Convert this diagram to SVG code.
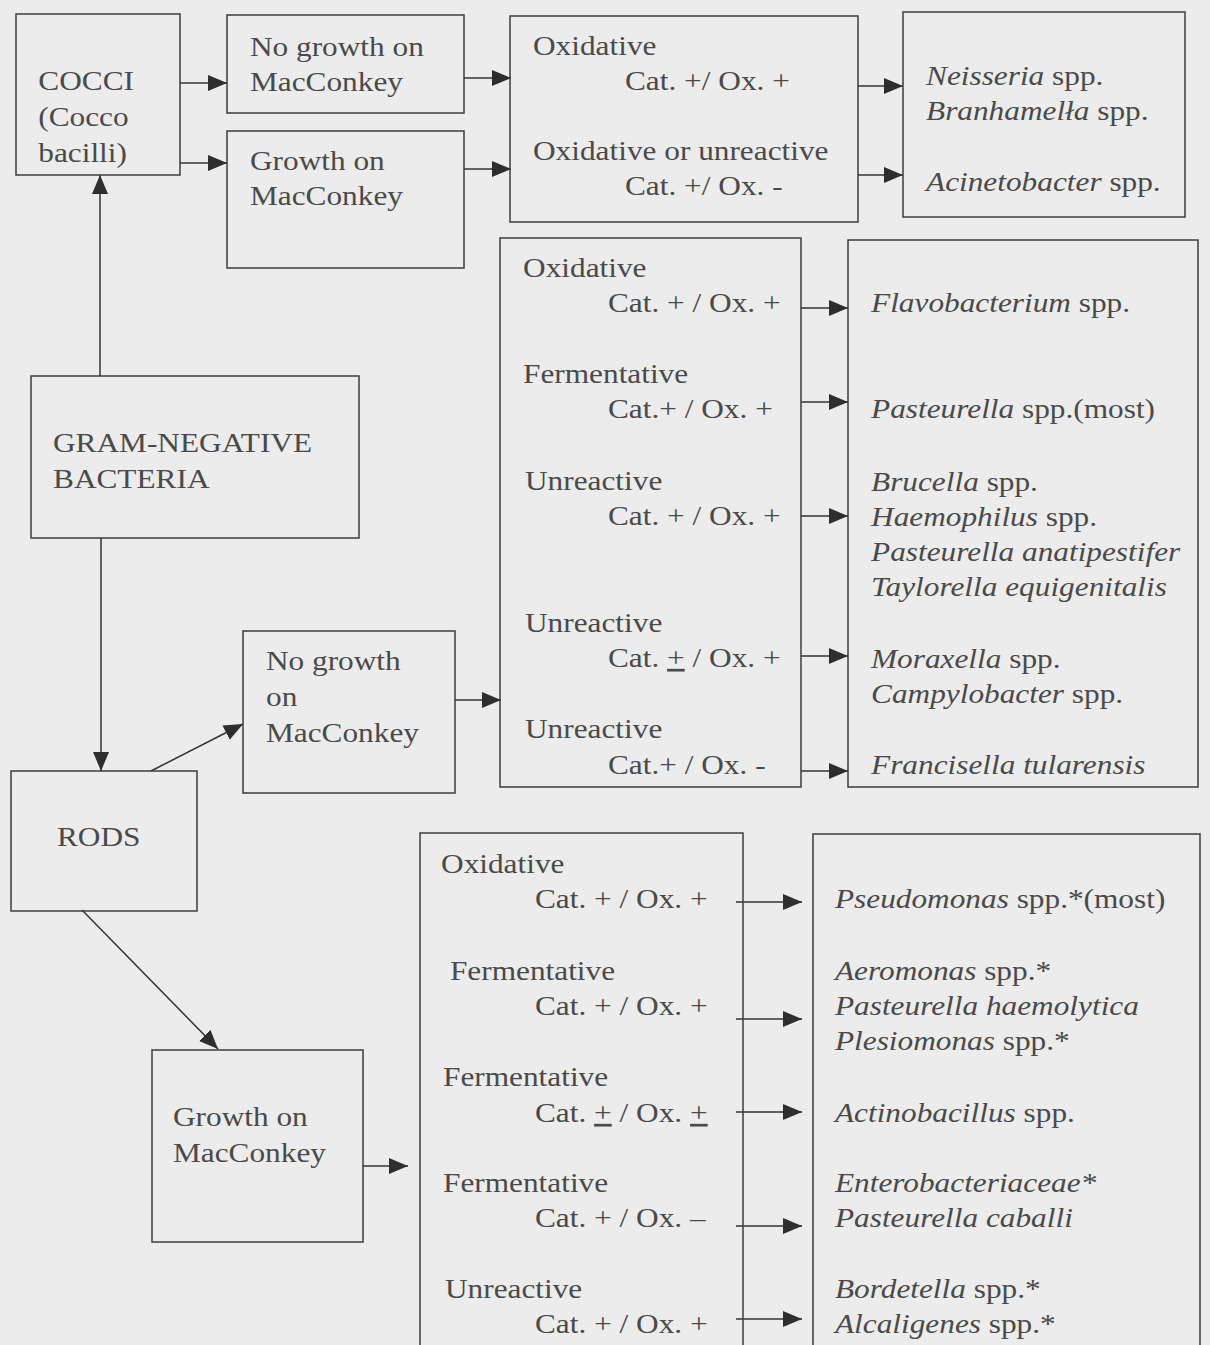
<svg xmlns="http://www.w3.org/2000/svg" width="1210" height="1345" viewBox="0 0 1210 1345">
<style>
.bx{fill:none;stroke:#3c3c3c;stroke-width:1.5}
.cn{stroke:#333;stroke-width:1.5;fill:none;marker-end:url(#ah)}
text{font-family:"Liberation Serif","Times New Roman",serif;font-size:27px;fill:#4a4a4a}
.i{font-style:italic}
.u{text-decoration:underline}
</style>
<defs>
<marker id="ah" markerUnits="userSpaceOnUse" markerWidth="22" markerHeight="18" refX="19" refY="8" orient="auto">
<path d="M0,0 L19,8 L0,16 z" fill="#2e2e2e"/>
</marker>
</defs>
<rect x="0" y="0" width="1210" height="1345" fill="#ececec"/>
<g id="connectors">
<line class="cn" x1="180" y1="83" x2="227" y2="83"/>
<line class="cn" x1="180" y1="163" x2="227" y2="163"/>
<line class="cn" x1="464" y1="78" x2="511" y2="78"/>
<line class="cn" x1="464" y1="169" x2="511" y2="169"/>
<line class="cn" x1="858" y1="86" x2="903" y2="86"/>
<line class="cn" x1="858" y1="175" x2="903" y2="175"/>
<line class="cn" x1="100" y1="376" x2="100" y2="175"/>
<line class="cn" x1="101" y1="538" x2="101" y2="771"/>
<line class="cn" x1="151" y1="771" x2="243" y2="724"/>
<line class="cn" x1="82" y1="910" x2="218" y2="1049"/>
<line class="cn" x1="455" y1="700" x2="501" y2="700"/>
<line class="cn" x1="801" y1="308" x2="848" y2="308"/>
<line class="cn" x1="801" y1="402" x2="848" y2="402"/>
<line class="cn" x1="801" y1="516" x2="848" y2="516"/>
<line class="cn" x1="801" y1="656" x2="848" y2="656"/>
<line class="cn" x1="801" y1="771" x2="848" y2="771"/>
<line class="cn" x1="363" y1="1166" x2="408" y2="1166"/>
<line class="cn" x1="736" y1="902" x2="802" y2="902"/>
<line class="cn" x1="736" y1="1019" x2="802" y2="1019"/>
<line class="cn" x1="736" y1="1112" x2="802" y2="1112"/>
<line class="cn" x1="736" y1="1226" x2="802" y2="1226"/>
<line class="cn" x1="736" y1="1319" x2="802" y2="1319"/>
</g>
<g id="cocci"><rect class="bx" x="16" y="14" width="164" height="161"/>
<g transform="scale(1.16,1)"><text x="33" y="90">COCCI</text><text x="33" y="126">(Cocco</text><text x="33" y="162">bacilli)</text></g></g>
<g id="nogrowth-cocci"><rect class="bx" x="227" y="15" width="237" height="98"/>
<g transform="scale(1.16,1)"><text x="215.5" y="56">No growth on</text><text x="215.5" y="91">MacConkey</text></g></g>
<g id="growth-cocci"><rect class="bx" x="227" y="131" width="237" height="137"/>
<g transform="scale(1.16,1)"><text x="215.5" y="170">Growth on</text><text x="215.5" y="205">MacConkey</text></g></g>
<g id="oxidative-cocci"><rect class="bx" x="510" y="16" width="348" height="206"/>
<g transform="scale(1.16,1)"><text x="459.5" y="55">Oxidative</text><text x="538.8" y="90">Cat. +/ Ox. +</text><text x="459.5" y="160">Oxidative or unreactive</text><text x="538.8" y="195">Cat. +/ Ox. -</text></g></g>
<g id="result-cocci"><rect class="bx" x="903" y="12" width="282" height="205"/>
<g transform="scale(1.16,1)"><text x="798.3" y="85"><tspan class="i">Neisseria</tspan> spp.</text><text x="798.3" y="120"><tspan class="i">Branhamelła</tspan> spp.</text><text x="798.3" y="191"><tspan class="i">Acinetobacter</tspan> spp.</text></g></g>
<g id="gram"><rect class="bx" x="31" y="376" width="328" height="162"/>
<g transform="scale(1.16,1)"><text x="45.7" y="452">GRAM-NEGATIVE</text><text x="45.7" y="488">BACTERIA</text></g></g>
<g id="rods"><rect class="bx" x="11" y="771" width="186" height="140"/>
<g transform="scale(1.16,1)"><text x="49.1" y="846">RODS</text></g></g>
<g id="nogrowth-rods"><rect class="bx" x="243" y="631" width="212" height="162"/>
<g transform="scale(1.16,1)"><text x="229.3" y="670">No growth</text><text x="229.3" y="706">on</text><text x="229.3" y="742">MacConkey</text></g></g>
<g id="tests-nogrowth"><rect class="bx" x="500" y="238" width="301" height="549"/>
<g transform="scale(1.16,1)">
<text x="450.9" y="277">Oxidative</text><text x="524.1" y="312">Cat. + / Ox. +</text>
<text x="450.9" y="383">Fermentative</text><text x="524.1" y="418">Cat.+ / Ox. +</text>
<text x="452.6" y="490">Unreactive</text><text x="524.1" y="525">Cat. + / Ox. +</text>
<text x="452.6" y="632">Unreactive</text><text x="524.1" y="667">Cat. <tspan class="u">+</tspan> / Ox. +</text>
<text x="452.6" y="738">Unreactive</text><text x="524.1" y="774">Cat.+ / Ox. -</text>
</g></g>
<g id="result-nogrowth"><rect class="bx" x="848" y="240" width="350" height="547"/>
<g transform="scale(1.16,1)">
<text x="750.9" y="312"><tspan class="i">Flavobacterium</tspan> spp.</text>
<text x="750.9" y="418"><tspan class="i">Pasteurella</tspan> spp.(most)</text>
<text x="750.9" y="491"><tspan class="i">Brucella</tspan> spp.</text>
<text x="750.9" y="526"><tspan class="i">Haemophilus</tspan> spp.</text>
<text x="750.9" y="561" class="i">Pasteurella anatipestifer</text>
<text x="750.9" y="596" class="i">Taylorella equigenitalis</text>
<text x="750.9" y="668"><tspan class="i">Moraxella</tspan> spp.</text>
<text x="750.9" y="703"><tspan class="i">Campylobacter</tspan> spp.</text>
<text x="750.9" y="774" class="i">Francisella tularensis</text>
</g></g>
<g id="growth-rods"><rect class="bx" x="152" y="1050" width="211" height="192"/>
<g transform="scale(1.16,1)"><text x="149.1" y="1126">Growth on</text><text x="149.1" y="1162">MacConkey</text></g></g>
<g id="tests-growth"><rect class="bx" x="420" y="833" width="323" height="530"/>
<g transform="scale(1.16,1)">
<text x="380.2" y="873">Oxidative</text><text x="461.2" y="908">Cat. + / Ox. +</text>
<text x="387.9" y="980">Fermentative</text><text x="461.2" y="1015">Cat. + / Ox. +</text>
<text x="381.9" y="1086">Fermentative</text><text x="461.2" y="1122">Cat. <tspan class="u">+</tspan> / Ox. <tspan class="u">+</tspan></text>
<text x="381.9" y="1192">Fermentative</text><text x="461.2" y="1227">Cat. + / Ox. –</text>
<text x="383.6" y="1298">Unreactive</text><text x="461.2" y="1333">Cat. + / Ox. +</text>
</g></g>
<g id="result-growth"><rect class="bx" x="813" y="834" width="387" height="530"/>
<g transform="scale(1.16,1)">
<text x="719.8" y="908"><tspan class="i">Pseudomonas</tspan> spp.*(most)</text>
<text x="719.8" y="980"><tspan class="i">Aeromonas</tspan> spp.*</text>
<text x="719.8" y="1015" class="i">Pasteurella haemolytica</text>
<text x="719.8" y="1050"><tspan class="i">Plesiomonas</tspan> spp.*</text>
<text x="719.8" y="1122"><tspan class="i">Actinobacillus</tspan> spp.</text>
<text x="719.8" y="1192" class="i">Enterobacteriaceae*</text>
<text x="719.8" y="1227" class="i">Pasteurella caballi</text>
<text x="719.8" y="1298"><tspan class="i">Bordetella</tspan> spp.*</text>
<text x="719.8" y="1333"><tspan class="i">Alcaligenes</tspan> spp.*</text>
</g></g>
</svg>
